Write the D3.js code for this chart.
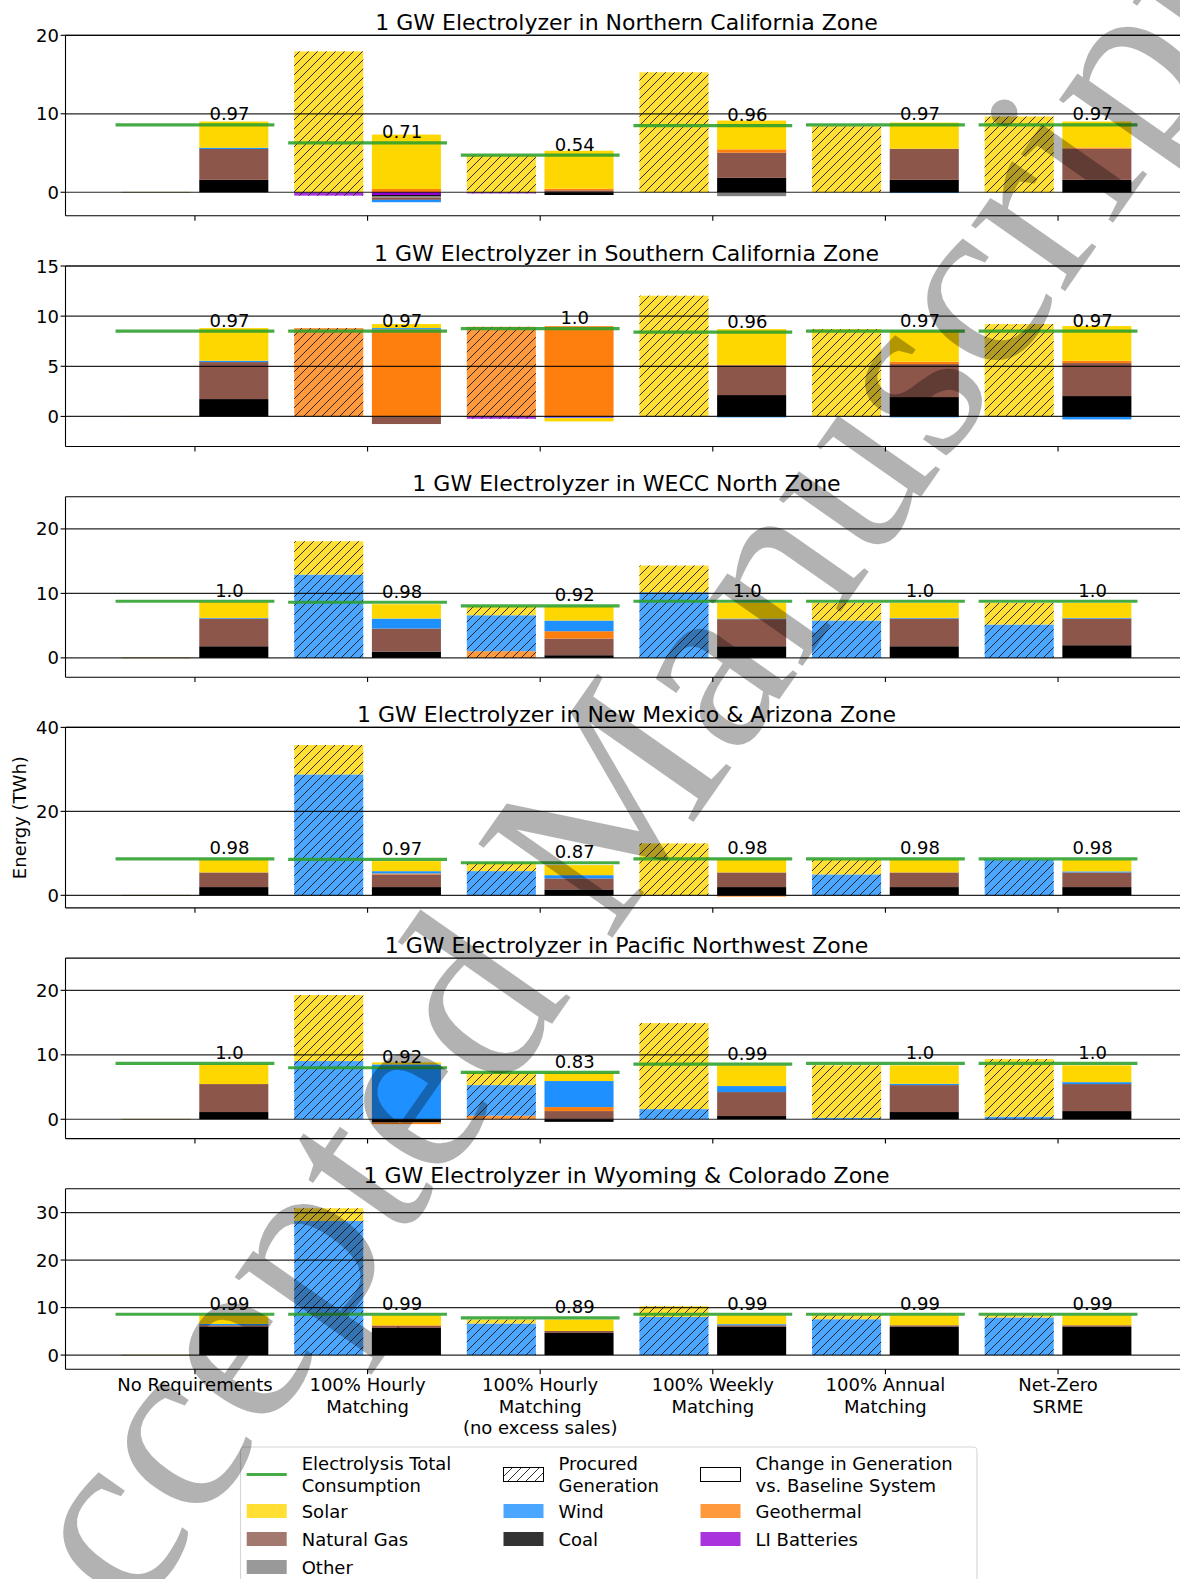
<!DOCTYPE html>
<html><head><meta charset="utf-8">
<script src="https://cdn.jsdelivr.net/npm/d3@7"></script>
<style>
body{margin:0;background:#fff}
svg{display:block}
text{font-family:"DejaVu Sans",sans-serif;fill:#000}
</style>
</head><body>
<svg id="chart" width="1180" height="1579"></svg>
<script>
// ---------------- DATA ----------------
const zoneTitles = [
  "1 GW Electrolyzer in Northern California Zone",
  "1 GW Electrolyzer in Southern California Zone",
  "1 GW Electrolyzer in WECC North Zone",
  "1 GW Electrolyzer in New Mexico & Arizona Zone",
  "1 GW Electrolyzer in Pacific Northwest Zone",
  "1 GW Electrolyzer in Wyoming & Colorado Zone"
];
const scenarioLabels = [
  ["No Requirements"],
  ["100% Hourly", "Matching"],
  ["100% Hourly", "Matching", "(no excess sales)"],
  ["100% Weekly", "Matching"],
  ["100% Annual", "Matching"],
  ["Net-Zero", "SRME"]
];
const yMin = -3;
const yMax = [20, 15, 25, 40, 25, 35];
const yTicks = [[0,10,20],[0,5,10,15],[0,10,20],[0,20,40],[0,10,20],[0,10,20,30]];

// Electrolysis total consumption (TWh)
const consumption = [
  [8.59, 6.28, 4.74, 8.50, 8.59, 8.59],
  [8.51, 8.51, 8.75, 8.41, 8.51, 8.51],
  [8.78, 8.63, 8.06, 8.78, 8.78, 8.78],
  [8.66, 8.55, 7.76, 8.66, 8.66, 8.66],
  [8.66, 7.99, 7.27, 8.56, 8.66, 8.66],
  [8.59, 8.59, 7.82, 8.59, 8.59, 8.59]
];
// hourly matching score labels
const matchScore = [
  ["0.97","0.71","0.54","0.96","0.97","0.97"],
  ["0.97","0.97","1.0","0.96","0.97","0.97"],
  ["1.0","0.98","0.92","1.0","1.0","1.0"],
  ["0.98","0.97","0.87","0.98","0.98","0.98"],
  ["1.0","0.92","0.83","0.99","1.0","1.0"],
  ["0.99","0.99","0.89","0.99","0.99","0.99"]
];

// Procured generation (TWh), per zone x scenario
const procuredGeothermal = [
  [0, 0, 0, 0, 0, 0],
  [0, 8.81, 8.94, 0, 0, 0],
  [0, 0, 1.03, 0, 0, 0],
  [0, 0, 0, 0, 0, 0],
  [0, 0, 0.55, 0, 0, 0],
  [0, 0, 0, 0, 0, 0]
];
const procuredWind = [
  [0, 0, 0, 0, 0, 0],
  [0, 0, 0, 0, 0, 0],
  [0, 12.92, 5.58, 10.18, 5.79, 5.17],
  [0, 28.8, 5.77, 0, 4.98, 8.55],
  [0, 9.03, 4.75, 1.58, 0.23, 0.40],
  [0, 28.23, 6.63, 8.02, 7.54, 7.89]
];
const procuredSolar = [
  [0, 17.95, 4.70, 15.29, 8.41, 9.65],
  [0, 0, 0, 12.04, 8.71, 9.21],
  [0, 5.17, 1.39, 4.14, 2.74, 3.36],
  [0, 7.0, 1.99, 12.36, 3.57, 0],
  [0, 10.24, 1.97, 13.34, 8.13, 8.94],
  [0, 2.67, 0.84, 2.25, 0.84, 0.49]
];
const procuredBatteries = [
  [0, -0.43, -0.15, 0, 0, 0],
  [0, 0, -0.23, 0, 0, 0],
  [0, 0, 0, 0, 0, 0],
  [0, 0, 0, 0, 0, 0],
  [0, 0, 0, 0, 0, 0],
  [0, 0, 0, 0, 0, 0]
];

// Change in generation vs. baseline system (TWh)
const changeCoal = [
  [1.58, -0.12, -0.35, 1.83, 1.58, 1.58],
  [1.73, 0, 0, 2.13, 1.93, 2.03],
  [1.80, 0.98, 0.41, 1.80, 1.80, 1.96],
  [1.96, 1.96, 1.40, 1.96, 1.96, 1.96],
  [1.12, -0.50, -0.40, 0.50, 1.12, 1.27],
  [5.92, 5.71, 4.65, 5.92, 5.92, 5.92]
];
const changeGas = [
  [3.93, -0.30, 0.25, 3.21, 3.97, 3.97],
  [3.69, -0.76, 0, 2.96, 3.29, 3.29],
  [4.30, 3.57, 2.59, 4.20, 4.30, 4.14],
  [3.49, 3.02, 2.63, 3.49, 3.49, 3.49],
  [4.34, 0, 1.27, 3.72, 4.18, 4.19],
  [0.35, 0.42, 0.42, 0.35, 0.35, 0.35]
];
const changeOther = [
  [0, -0.20, 0, -0.50, 0, -0.10],
  [0, 0, 0, 0, 0, 0],
  [0, 0, 0, 0, 0, 0],
  [0, 0, 0, 0, 0, 0],
  [0, 0, 0, 0, 0, 0],
  [0, 0, 0, 0, 0, 0]
];
const changeGeothermal = [
  [0, 0.42, 0.20, 0.43, 0, 0.15],
  [0, 8.68, 9.00, 0.05, 0.24, 0.23],
  [0, 0, 1.13, 0, 0, 0],
  [0, 0.22, 0, -0.30, 0, 0],
  [0, -0.25, 0.62, 0, 0, 0],
  [0, 0.15, 0, 0, 0, 0]
];
const changeWind = [
  [0.16, -0.30, 0, 0, -0.10, 0],
  [0.13, 0.13, -0.05, -0.10, -0.10, -0.30],
  [0.10, 1.55, 1.66, 0.10, 0.10, 0.10],
  [0, 0.55, 0.77, 0, 0, 0.25],
  [0, 8.51, 4.04, 0.93, 0.20, 0.30],
  [0.28, 0, 0, 0.23, 0, 0]
];
const changeSolar = [
  [3.34, 6.93, 4.84, 3.67, 3.33, 3.31],
  [3.26, 0.40, -0.33, 3.57, 3.09, 3.46],
  [2.43, 2.22, 2.16, 2.43, 2.33, 2.33],
  [3.10, 2.40, 2.40, 3.10, 3.10, 2.70],
  [3.05, 0.31, 1.27, 3.21, 2.86, 2.60],
  [1.83, 2.10, 2.40, 1.88, 2.11, 2.11]
];
const changeBatteries = [
  [0, -0.35, 0, 0, 0, 0],
  [0, 0, -0.12, 0, 0, 0],
  [0, 0, 0, 0, 0, 0],
  [0, 0, 0, 0, 0, 0],
  [0, 0, 0, 0, 0, 0],
  [0, 0, 0, 0, 0, 0]
];

const techColors = {
  "Coal": "#000000", "Natural Gas": "#8c564b", "Other": "#808080",
  "Geothermal": "#ff7f0e", "Wind": "#1e90ff", "Solar": "#ffd700", "LI Batteries": "#9400d3"
};
const posOrder = ["Coal","Natural Gas","Other","Geothermal","Wind","Solar","LI Batteries"];
const negOrder = ["LI Batteries","Coal","Other","Natural Gas","Geothermal","Wind","Solar"];

// ---------------- LAYOUT ----------------
const svg = d3.select("#chart");
svg.append("rect").attr("width",1180).attr("height",1579).attr("fill","#fff");
const defs = svg.append("defs");
const hp = defs.append("pattern").attr("id","hatch").attr("patternUnits","userSpaceOnUse")
  .attr("width",9).attr("height",9);
hp.append("path").attr("d","M-1,10 L10,-1 M-5,5 L5,-5 M4,14 L14,4")
  .attr("stroke","#1a1a1a").attr("stroke-width",0.9).attr("fill","none");

const axLeft = 65.5, axRight = 1187.5;
const panelTop0 = 35.3, panelStep = 230.7, panelH = 180.5;
const x = d3.scaleLinear().domain([-0.75, 5.75]).range([axLeft, axRight]);
const barW = x(0.4) - x(0);
const offs = 0.225;

function stackSegments(vals, pOrder, nOrder) {
  const segs = []; let p = 0, n = 0;
  pOrder.forEach(k => { const v = vals[k] || 0; if (v > 0) { segs.push({k, y0:p, y1:p+v}); p += v; } });
  nOrder.forEach(k => { const v = vals[k] || 0; if (v < 0) { segs.push({k, y0:n+v, y1:n}); n += v; } });
  return segs;
}

const plotLayer = svg.append("g");

zoneTitles.forEach((title, z) => {
  const top = panelTop0 + z*panelStep, bottom = top + panelH;
  const y = d3.scaleLinear().domain([yMin, yMax[z]]).range([bottom, top]);
  const g = plotLayer.append("g");

  // bars
  for (let s = 0; s < 6; s++) {
    // procured (hatched, left)
    const pv = {"Geothermal":procuredGeothermal[z][s], "Wind":procuredWind[z][s],
                "Solar":procuredSolar[z][s], "LI Batteries":procuredBatteries[z][s]};
    const pSegs = stackSegments(pv, ["Geothermal","Wind","Solar"], ["LI Batteries"]);
    const xl = x(s - offs) - barW/2;
    if (pSegs.length === 0) {
      g.append("line").attr("x1",xl).attr("x2",xl+barW).attr("y1",y(0)).attr("y2",y(0))
        .attr("stroke","#b5a23a").attr("stroke-width",1).attr("opacity",0.6);
    }
    pSegs.forEach(sg => {
      g.append("rect").attr("x",xl).attr("width",barW)
        .attr("y",y(sg.y1)).attr("height",Math.max(0.5,y(sg.y0)-y(sg.y1)))
        .attr("fill",techColors[sg.k]).attr("fill-opacity",0.8);
      g.append("rect").attr("x",xl).attr("width",barW)
        .attr("y",y(sg.y1)).attr("height",Math.max(0.5,y(sg.y0)-y(sg.y1)))
        .attr("fill","url(#hatch)");
    });
    // change in generation (solid, right)
    const cv = {"Coal":changeCoal[z][s], "Natural Gas":changeGas[z][s], "Other":changeOther[z][s],
                "Geothermal":changeGeothermal[z][s], "Wind":changeWind[z][s],
                "Solar":changeSolar[z][s], "LI Batteries":changeBatteries[z][s]};
    const cSegs = stackSegments(cv, posOrder, negOrder);
    const xr = x(s + offs) - barW/2;
    cSegs.forEach(sg => {
      g.append("rect").attr("x",xr).attr("width",barW)
        .attr("y",y(sg.y1)).attr("height",Math.max(0.5,y(sg.y0)-y(sg.y1)))
        .attr("fill",techColors[sg.k]);
    });
  }

  // gridlines
  yTicks[z].forEach(t => {
    g.append("line").attr("x1",axLeft).attr("x2",1180).attr("y1",y(t)).attr("y2",y(t))
      .attr("stroke","#000").attr("stroke-width",1.2).attr("opacity",0.85);
  });

  // consumption lines
  for (let s = 0; s < 6; s++) {
    g.append("line").attr("x1",x(s-0.46)).attr("x2",x(s+0.46))
      .attr("y1",y(consumption[z][s])).attr("y2",y(consumption[z][s]))
      .attr("stroke","#2ca02c").attr("stroke-width",3.2).attr("opacity",0.88);
    g.append("text").attr("x",x(s+0.2)).attr("y",y(consumption[z][s])-4.5)
      .attr("text-anchor","middle").attr("font-size",18).text(matchScore[z][s]);
  }

  // spines
  g.append("line").attr("x1",axLeft).attr("x2",1180).attr("y1",top).attr("y2",top).attr("stroke","#000").attr("stroke-width",1.1);
  g.append("line").attr("x1",axLeft).attr("x2",1180).attr("y1",bottom).attr("y2",bottom).attr("stroke","#000").attr("stroke-width",1.1);
  g.append("line").attr("x1",axLeft).attr("x2",axLeft).attr("y1",top).attr("y2",bottom).attr("stroke","#000").attr("stroke-width",1.1);

  // y axis ticks & labels
  yTicks[z].forEach(t => {
    g.append("line").attr("x1",axLeft-4.9).attr("x2",axLeft).attr("y1",y(t)).attr("y2",y(t)).attr("stroke","#000").attr("stroke-width",1.1);
    g.append("text").attr("x",59).attr("y",y(t)+6.5).attr("text-anchor","end").attr("font-size",18).text(t);
  });
  // x ticks
  for (let s = 0; s < 6; s++) {
    g.append("line").attr("x1",x(s)).attr("x2",x(s)).attr("y1",bottom).attr("y2",bottom+4.9).attr("stroke","#000").attr("stroke-width",1.1);
  }
  // title
  g.append("text").attr("x",(axLeft+axRight)/2).attr("y",top-5.5).attr("text-anchor","middle")
    .attr("font-size",22).text(title);

  if (z === 3) {
    g.append("text").attr("transform",`translate(26,${(top+bottom)/2}) rotate(-90)`)
      .attr("text-anchor","middle").attr("font-size",18).text("Energy (TWh)");
  }
  if (z === 5) {
    scenarioLabels.forEach((lines, s) => {
      lines.forEach((ln, i) => {
        g.append("text").attr("x",x(s)).attr("y",bottom+21.7+i*21.6).attr("text-anchor","middle")
          .attr("font-size",18).text(ln);
      });
    });
  }
});

// ---------------- LEGEND ----------------
const legendCols = [
  [{type:"line", label:["Electrolysis Total","Consumption"]},
   {type:"patch", tech:"Solar", label:["Solar"]},
   {type:"patch", tech:"Natural Gas", label:["Natural Gas"]},
   {type:"patch", tech:"Other", label:["Other"]}],
  [{type:"hatch", label:["Procured","Generation"]},
   {type:"patch", tech:"Wind", label:["Wind"]},
   {type:"patch", tech:"Coal", label:["Coal"]}],
  [{type:"empty", label:["Change in Generation","vs. Baseline System"]},
   {type:"patch", tech:"Geothermal", label:["Geothermal"]},
   {type:"patch", tech:"LI Batteries", label:["LI Batteries"]}]
];
const lg = svg.append("g");
lg.append("rect").attr("x",240.5).attr("y",1447).attr("width",736.5).attr("height",160)
  .attr("rx",4).attr("fill","#fff").attr("fill-opacity",0.8).attr("stroke","#d6d6d6").attr("stroke-width",1.1);
const colX = [246.7, 503.5, 700.5];
const rowY = [1474.5, 1511, 1539, 1567];
legendCols.forEach((col, ci) => {
  col.forEach((it, ri) => {
    const hx = colX[ci], cy = rowY[ri];
    if (it.type === "line") {
      lg.append("line").attr("x1",hx).attr("x2",hx+40).attr("y1",cy).attr("y2",cy)
        .attr("stroke","#2ca02c").attr("stroke-width",3.2).attr("opacity",0.88);
    } else if (it.type === "hatch") {
      lg.append("rect").attr("x",hx).attr("y",cy-7).attr("width",40).attr("height",14)
        .attr("fill","url(#hatch)").attr("stroke","#000").attr("stroke-width",1);
    } else if (it.type === "empty") {
      lg.append("rect").attr("x",hx).attr("y",cy-7).attr("width",40).attr("height",14)
        .attr("fill","#fff").attr("stroke","#000").attr("stroke-width",1);
    } else {
      lg.append("rect").attr("x",hx).attr("y",cy-7).attr("width",40).attr("height",14)
        .attr("fill",techColors[it.tech]).attr("fill-opacity",0.8);
    }
    const n = it.label.length;
    it.label.forEach((ln, i) => {
      lg.append("text").attr("x",hx+55).attr("y",cy+6.5+(i-(n-1)/2)*21.5)
        .attr("font-size",18).text(ln);
    });
  });
});

// ---------------- WATERMARK ----------------
svg.append("text").attr("transform","translate(31,1768) rotate(-55)")
  .attr("font-family","'Liberation Serif', serif").attr("font-size",250)
  .style("font-family","'Liberation Serif', serif")
  .attr("fill","#000").attr("fill-opacity",0.3).text("Accepted Manuscript");
</script>
</body></html>
